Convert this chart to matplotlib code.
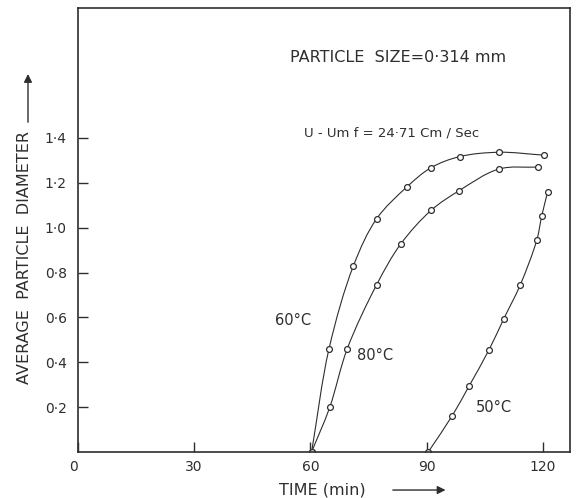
import numpy as np
import matplotlib
matplotlib.use("Agg")
from matplotlib import pyplot as plt
from matplotlib.path import Path
from matplotlib.patches import PathPatch, FancyArrowPatch

# values
time_60 = [60.3, 64.8, 71.1, 77.1, 84.8, 91.1, 98.6, 108.7, 120.3]
dia_60 = [0.0, 0.46, 0.83, 1.04, 1.18, 1.267, 1.317, 1.336, 1.323]

time_80 = [60.3, 65.0, 69.5, 77.1, 83.3, 91.2, 98.4, 108.6, 118.8]
dia_80 = [0.0, 0.20, 0.46, 0.746, 0.927, 1.078, 1.165, 1.261, 1.27]

time_50 = [90.4, 96.6, 100.9, 106.1, 109.9, 114.1, 118.4, 119.7, 121.2]
dia_50 = [0.0, 0.162, 0.293, 0.456, 0.594, 0.743, 0.944, 1.053, 1.158]

x_ticks = [0, 30, 60, 90, 120]
x_ticklabels = ["0", "30", "60", "90", "120"]
y_ticks = [0.2, 0.4, 0.6, 0.8, 1.0, 1.2, 1.4]
y_ticklabels = ["0·2", "0·4", "0·6", "0·8", "1·0", "1·2", "1·4"]

ink = "#2e2e2e"
plt.rcParams['font.family'] = ['DejaVu Sans']


def smooth_path(xs, ys, sx=3.875, sy=224.0):
    # centripetal Catmull-Rom (worked out in roughly screen-scaled units),
    # handed to matplotlib as cubic Bezier segments in data coords
    p = np.column_stack([np.asarray(xs) * sx, np.asarray(ys) * sy])
    ext = np.vstack([2 * p[0] - p[1], p, 2 * p[-1] - p[-2]])
    verts = [p[0]]
    codes = [Path.MOVETO]
    for i in range(1, len(ext) - 2):
        p0, p1, p2, p3 = ext[i - 1], ext[i], ext[i + 1], ext[i + 2]
        d0 = np.linalg.norm(p1 - p0) ** 0.5
        d1 = np.linalg.norm(p2 - p1) ** 0.5
        d2 = np.linalg.norm(p3 - p2) ** 0.5
        m1 = ((p1 - p0) / d0 - (p2 - p0) / (d0 + d1) + (p2 - p1) / d1) * d1
        m2 = ((p2 - p1) / d1 - (p3 - p1) / (d1 + d2) + (p3 - p2) / d2) * d1
        verts += [p1 + m1 / 3.0, p2 - m2 / 3.0, p2]
        codes += [Path.CURVE4] * 3
    verts = np.array(verts) / [sx, sy]
    return Path(verts, codes)


fig = plt.figure(figsize=(5.77, 4.98), dpi=100)
ax = fig.add_axes([0.135, 0.0924, 0.853, 0.892])

for xs, ys in [(time_60, dia_60), (time_80, dia_80), (time_50, dia_50)]:
    ax.add_patch(PathPatch(smooth_path(xs, ys), facecolor='none',
                           edgecolor=ink, lw=0.8))
    ax.plot(xs, ys, linestyle='none', marker='o', markersize=4.2,
            markerfacecolor='white', markeredgecolor=ink, markeredgewidth=0.9)

ax.set_xlim(0, 127)
ax.set_ylim(0, 1.98)
ax.set_xticks(x_ticks)
ax.set_xticklabels(x_ticklabels)
ax.set_yticks(y_ticks)
ax.set_yticklabels(y_ticklabels)
ax.tick_params(direction='in', length=7, width=1, color=ink,
               labelcolor=ink, labelsize=10)
ax.tick_params(axis='y', pad=8)
ax.tick_params(axis='x', pad=6)
ax.get_xticklabels()[0].set_ha('right')
for s in ax.spines.values():
    s.set_linewidth(1.2)
    s.set_color(ink)

ax.text(0.650, 0.887, "PARTICLE  SIZE=0·314 mm", transform=ax.transAxes,
        ha='center', va='center', fontsize=11.5, color=ink)
ax.text(0.637, 0.718, "U - Um f = 24·71 Cm / Sec", transform=ax.transAxes,
        ha='center', va='center', fontsize=9.5, color=ink)
ax.text(0.437, 0.297, "60°C", transform=ax.transAxes,
        ha='center', va='center', fontsize=10.5, color=ink)
ax.text(0.604, 0.218, "80°C", transform=ax.transAxes,
        ha='center', va='center', fontsize=10.5, color=ink)
ax.text(0.846, 0.101, "50°C", transform=ax.transAxes,
        ha='center', va='center', fontsize=10.5, color=ink)

fig.text(0.0433, 0.483, "AVERAGE  PARTICLE  DIAMETER", rotation=90,
         ha='center', va='center', fontsize=11.5, color=ink)
fig.text(0.559, 0.016, "TIME (min)", ha='center', va='center',
         fontsize=11.5, color=ink)

arrow = dict(arrowstyle='-|>', color=ink, lw=1, mutation_scale=12)
fig.add_artist(FancyArrowPatch((0.0485, 0.749), (0.0485, 0.857),
               transform=fig.transFigure, **arrow))
fig.add_artist(FancyArrowPatch((0.676, 0.016), (0.777, 0.016),
               transform=fig.transFigure, **arrow))

fig.savefig("out.png", dpi=100, facecolor='white')
